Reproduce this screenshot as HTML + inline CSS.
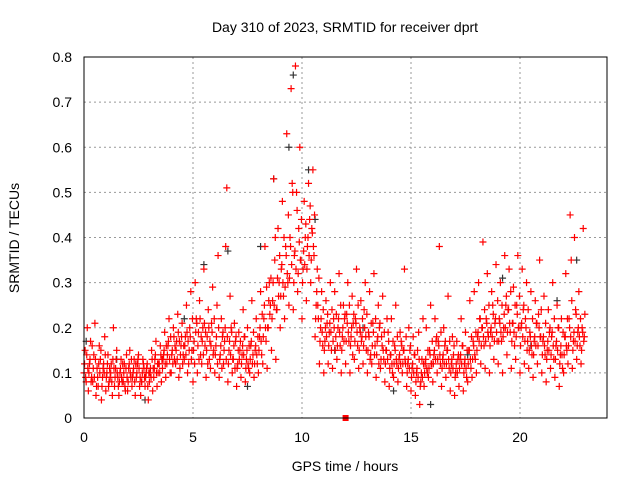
<!DOCTYPE html>
<html><head><meta charset="utf-8"><style>
body{margin:0;background:#fff;}
svg text{font-family:"Liberation Sans",sans-serif;font-size:14px;fill:#000;}
</style></head><body>
<svg id="chart" width="640" height="480" viewBox="0 0 640 480" xmlns="http://www.w3.org/2000/svg">
<rect width="640" height="480" fill="#fff"/>
<g id="grid"></g>
<g id="ticks"></g>
<g id="marks"></g>
<rect x="84" y="57" width="523" height="361" fill="none" stroke="#000" stroke-width="1"/>
<text x="345" y="32" text-anchor="middle">Day 310 of 2023, SRMTID for receiver dprt</text>
<text x="345" y="471" text-anchor="middle">GPS time / hours</text>
<text transform="translate(19,238) rotate(-90)" text-anchor="middle">SRMTID / TECUs</text>
</svg>
<script>
const xTicks=[0,5,10,15,20];
const yTicks=[0,0.1,0.2,0.3,0.4,0.5,0.6,0.7,0.8];
const yTickLabels=["0","0.1","0.2","0.3","0.4","0.5","0.6","0.7","0.8"];
const binStart=0, binStep=0.2;
const redBins=[
[.10,.15,.08,.20],[.06,.12,.17,.09],[.08,.14,.21,.05],[.11,.07,.16,.13],[.04,.09,.12,.18],
[.06,.10,.14,.08],[.09,.12,.05,.20],[.07,.11,.15,.09],[.05,.10,.13,.08],[.08,.12,.06,.14],
[.06,.11,.15,.09],[.07,.10,.13,.05],[.09,.12,.14,.07],[.05,.08,.13,.11],[.07,.10,.12,.04],
[.08,.11,.15,.06],[.09,.13,.17,.07],[.10,.12,.16,.08],[.11,.14,.19,.09],[.12,.16,.22,.10],
[.10,.15,.20,.13],[.12,.17,.23,.09],[.11,.16,.21,.14],[.13,.18,.25,.10],[.12,.20,.28,.15],
[.08,.17,.30,.22],[.10,.19,.26,.14],[.12,.20,.33,.16],[.09,.18,.24,.13],[.11,.21,.29,.15],
[.10,.16,.25,.36],[.09,.14,.22,.18],[.12,.17,.38,.51],[.08,.15,.27,.20],[.10,.13,.21,.17],
[.07,.12,.19,.15],[.09,.14,.24,.18],[.08,.13,.20,.11],[.10,.16,.26,.14],[.09,.15,.22,.12],
[.10,.18,.28,.14],[.12,.22,.38,.17],[.11,.20,.30,.25],[.15,.26,.53,.35],[.13,.24,.42,.30],
[.20,.33,.48,.27],[.22,.38,.63,.30],[.25,.40,.73,.52],[.24,.36,.78,.50],[.28,.42,.60,.35],
[.22,.33,.48,.40],[.26,.38,.52,.44],[.30,.42,.55,.36],[.18,.25,.33,.22],[.12,.20,.28,.16],
[.10,.17,.26,.21],[.12,.19,.30,.15],[.11,.22,.28,.18],[.13,.20,.32,.16],[.10,.18,.25,.22],
[.12,.23,.30,.17],[.10,.18,.27,.21],[.13,.22,.33,.16],[.11,.20,.26,.18],[.12,.24,.30,.15],
[.10,.19,.28,.14],[.12,.21,.32,.16],[.09,.17,.25,.20],[.11,.18,.27,.13],[.08,.15,.22,.19],
[.07,.14,.22,.10],[.09,.16,.25,.12],[.08,.13,.19,.17],[.10,.15,.33,.12],[.07,.12,.20,.15],
[.06,.11,.18,.14],[.05,.10,.15,.19],[.03,.08,.13,.22],[.07,.12,.20,.10],[.09,.15,.25,.12],
[.08,.14,.22,.17],[.10,.17,.38,.12],[.07,.13,.20,.16],[.09,.15,.27,.11],[.06,.12,.18,.14],
[.05,.10,.17,.13],[.07,.13,.22,.16],[.06,.12,.19,.09],[.08,.15,.26,.11],[.09,.17,.28,.13],
[.10,.18,.30,.22],[.12,.20,.39,.16],[.11,.22,.32,.18],[.10,.19,.28,.25],[.13,.21,.34,.17],
[.12,.22,.30,.17],[.10,.20,.36,.25],[.14,.24,.33,.19],[.11,.21,.29,.16],[.13,.25,.36,.20],
[.10,.20,.33,.24],[.12,.22,.30,.17],[.11,.19,.28,.14],[.09,.17,.26,.21],[.12,.23,.35,.18],
[.10,.17,.27,.14],[.08,.15,.24,.19],[.11,.18,.30,.13],[.09,.16,.25,.20],[.07,.14,.22,.11],
[.10,.18,.32,.15],[.12,.22,.45,.35],[.11,.17,.40,.24],[.13,.19,.28,.16],[.12,.20,.42,.18]
];
const redBins2=[
[.12,.09,.14,.11],[.10,.13,.08,.16],[.11,.09,.13,.07],[.09,.12,.10,.15],[.07,.11,.10,.14],
[.09,.12,.07,.11],[.10,.08,.13,.11],[.09,.13,.10,.07],[.08,.11,.09,.12],[.10,.07,.11,.09],
[.08,.12,.10,.13],[.09,.11,.08,.12],[.10,.13,.11,.09],[.08,.10,.12,.09],[.09,.11,.07,.10],
[.10,.09,.13,.11],[.11,.14,.10,.12],[.12,.10,.14,.13],[.13,.15,.12,.16],[.14,.17,.13,.18],
[.14,.12,.18,.16],[.15,.13,.19,.17],[.14,.18,.12,.16],[.16,.14,.19,.17],[.15,.18,.13,.22],
[.15,.12,.19,.21],[.16,.13,.22,.18],[.17,.14,.21,.19],[.15,.12,.20,.17],[.16,.19,.14,.22],
[.14,.18,.12,.20],[.13,.16,.11,.19],[.15,.20,.13,.18],[.12,.17,.14,.19],[.13,.16,.11,.18],
[.11,.15,.13,.17],[.12,.16,.14,.18],[.11,.15,.12,.16],[.13,.17,.12,.19],[.12,.16,.14,.18],
[.15,.20,.17,.23],[.18,.25,.20,.29],[.20,.26,.23,.31],[.22,.30,.25,.40],[.24,.31,.27,.36],
[.27,.34,.30,.40],[.29,.36,.32,.45],[.31,.38,.34,.50],[.30,.37,.33,.46],[.32,.39,.35,.44],
[.30,.37,.34,.43],[.33,.40,.36,.47],[.35,.41,.38,.45],[.22,.28,.25,.31],[.17,.22,.19,.24],
[.15,.20,.18,.23],[.16,.21,.19,.24],[.17,.20,.15,.23],[.16,.22,.19,.25],[.15,.20,.17,.23],
[.17,.21,.19,.25],[.16,.20,.14,.23],[.17,.21,.19,.25],[.15,.19,.17,.22],[.16,.20,.18,.23],
[.15,.18,.13,.21],[.16,.19,.14,.22],[.14,.18,.12,.21],[.13,.16,.15,.19],[.12,.15,.13,.17],
[.11,.14,.12,.17],[.12,.15,.13,.18],[.11,.14,.12,.16],[.12,.15,.13,.18],[.10,.13,.11,.16],
[.09,.12,.10,.14],[.08,.11,.09,.13],[.07,.10,.09,.12],[.10,.13,.11,.15],[.11,.14,.12,.17],
[.12,.15,.13,.18],[.13,.16,.14,.19],[.11,.14,.12,.17],[.12,.15,.13,.17],[.10,.13,.11,.16],
[.09,.12,.10,.14],[.11,.14,.12,.16],[.10,.13,.11,.15],[.12,.15,.13,.18],[.13,.16,.14,.19],
[.15,.19,.17,.22],[.16,.20,.18,.24],[.17,.21,.19,.25],[.16,.20,.18,.23],[.17,.22,.19,.26],
[.17,.21,.19,.25],[.18,.23,.20,.27],[.19,.24,.21,.28],[.17,.21,.19,.25],[.18,.23,.20,.27],
[.16,.21,.18,.25],[.17,.20,.15,.24],[.15,.18,.16,.22],[.14,.18,.16,.21],[.16,.20,.18,.24],
[.14,.18,.16,.21],[.13,.17,.15,.20],[.14,.19,.16,.22],[.13,.17,.15,.20],[.12,.16,.14,.19],
[.14,.18,.16,.22],[.16,.20,.18,.26],[.15,.19,.17,.23],[.16,.20,.18,.22],[.15,.19,.17,.23]
];
const blackTimes=[0.1,1.5,2.8,4.6,5.5,6.6,7.5,8.1,8.7,9.4,9.6,10.3,10.6,11.5,12.8,14.2,15.9,17.6,19.2,20.5,21.7,22.6];
const blackValues=[0.17,0.13,0.04,0.22,0.34,0.37,0.07,0.38,0.53,0.60,0.76,0.55,0.44,0.15,0.20,0.06,0.03,0.14,0.31,0.16,0.26,0.35];
const specialTimes=[12.0], specialValues=[0.0];

const X0=84,X1=607,Y0=418,Y1=57;
const xScale=t=>X0+t*21.8;
const yScale=v=>Y0-v*(Y0-Y1)/0.8;
const NS="http://www.w3.org/2000/svg";
function mk(tag,attrs,parent){const e=document.createElementNS(NS,tag);for(const k in attrs)e.setAttribute(k,attrs[k]);parent.appendChild(e);return e;}
const grid=document.getElementById('grid'),ticks=document.getElementById('ticks'),marks=document.getElementById('marks');
xTicks.forEach(t=>{const x=xScale(t);
 if(t>0){const g=mk('line',{x1:x,x2:x,y1:Y1,y2:Y0,stroke:'#999','stroke-dasharray':'2,3'},grid);
 
 }
 const l=mk('text',{x:x,y:Y0+24,'text-anchor':'middle'},ticks);l.textContent=t;
 
 });
yTicks.forEach((v,i)=>{const y=yScale(v);
 if(v>0&&v<0.8){const g=mk('line',{x1:X0,x2:X1,y1:y,y2:y,stroke:'#999','stroke-dasharray':'2,3'},grid);
 
 }
 const l=mk('text',{x:X0-12,y:y+5,'text-anchor':'end'},ticks);l.textContent=yTickLabels[i];
 
 });
function plus(t,v,color){const x=xScale(t),y=yScale(v);
 const p=mk('path',{d:`M${x-3.5} ${y}H${x+3.5}M${x} ${y-3.5}V${y+3.5}`,stroke:color,'stroke-width':1.2,fill:'none'},marks);
 return p;}
blackTimes.forEach((t,i)=>{const p=plus(t,blackValues[i],'#333');
 
 });
redBins.forEach((vals,b)=>{vals.forEach((v,k)=>{const t=binStart+b*binStep+k*0.05;
 const p=plus(t,v,'#f00');
 
 });});
redBins2.forEach((vals,b)=>{vals.forEach((v,k)=>{const t=binStart+b*binStep+0.025+k*0.05;
 const p=plus(t,v,'#f00');
 
 });});
specialTimes.forEach((t,i)=>{const r=mk('rect',{x:xScale(t)-3,y:yScale(specialValues[i])-3,width:6,height:6,fill:'#f00'},marks);
 
 });
</script>
</body></html>
